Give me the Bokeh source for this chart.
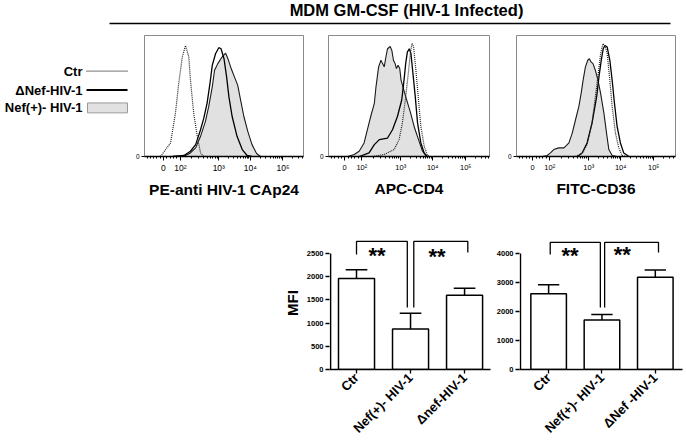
from math import pi, log10
from bokeh.plotting import figure
from bokeh.layouts import column, row
from bokeh.models import Range1d, FixedTicker, Spacer
from bokeh.core.properties import value
from bokeh.embed import file_html
from bokeh.resources import INLINE

FONT = "Liberation Sans"

# ---------------- data ----------------
title_text = "MDM GM-CSF (HIV-1 Infected)"
legend_labels = ["Ctr", "ΔNef-HIV-1", "Nef(+)- HIV-1"]
panel_labels = ["PE-anti HIV-1 CAp24", "APC-CD4", "FITC-CD36"]

# histogram x axis: display position of each decade (logicle-like scale)
hist_tick_pos = [0.0, 0.52, 1.70, 2.67, 3.67]
hist_tick_labels = ["0", "10²", "10³", "10⁴", "10⁵"]

# panel 1 : PE-anti HIV-1 CAp24
p1_ctr_x = [-0.09, 0.22, 0.37, 0.47, 0.58, 0.68, 0.78, 0.83, 0.93, 1.04, 1.14, 1.24]
p1_ctr_y = [0, 12.1, 38.7, 65.2, 88.8, 99.1, 88.8, 68.2, 38.7, 18.0, 3.2, 0]
p1_dnef_x = [0.27, 0.63, 0.83, 0.99, 1.14, 1.24, 1.34, 1.43, 1.50, 1.60, 1.70, 1.77, 1.86,
             1.94, 2.01, 2.11, 2.26, 2.42, 2.57, 2.72]
p1_dnef_y = [0, 0.9, 4.7, 10.6, 23.9, 34.2, 47.5, 65.2, 81.4, 91.7, 97.1, 96.2, 87.3,
             71.1, 53.4, 35.7, 18.0, 6.2, 0.9, 0]
p1_nefp_x = [0.32, 0.63, 0.83, 0.99, 1.14, 1.29, 1.39, 1.50, 1.57, 1.67, 1.80, 1.91, 1.98,
             2.08, 2.18, 2.28, 2.37, 2.47, 2.59, 2.72, 2.86, 2.98]
p1_nefp_y = [0, 0.3, 3.2, 7.7, 18.0, 31.3, 44.5, 62.2, 77.0, 82.9, 88.8, 92.3, 87.3,
             78.5, 71.1, 63.7, 50.4, 35.7, 22.4, 10.6, 2.7, 0]

# panel 2 : APC-CD4
p2_ctr_x = [0.84, 1.20, 1.50, 1.65, 1.75, 1.85, 1.94, 1.99, 2.04, 2.09, 2.16, 2.23, 2.31,
            2.41, 2.51, 2.61]
p2_ctr_y = [0, 1.8, 6.2, 15.1, 29.8, 53.4, 77.0, 91.8, 101.2, 97.7, 77.0, 53.4, 26.9,
            9.2, 0.9, 0]
p2_dnef_x = [0.44, 0.74, 0.90, 1.05, 1.30, 1.45, 1.60, 1.73, 1.80, 1.85, 1.90, 1.96, 2.01,
             2.06, 2.14, 2.21, 2.31, 2.41, 2.51]
p2_dnef_y = [0, 3.2, 10.6, 15.1, 16.5, 23.9, 35.7, 50.4, 68.2, 82.9, 93.2, 96.2, 91.8,
             77.0, 53.4, 29.8, 12.1, 3.2, 0]
p2_nefp_x = [0.09, 0.29, 0.44, 0.59, 0.69, 0.79, 0.90, 0.95, 1.03, 1.10, 1.15, 1.20, 1.25,
             1.30, 1.38, 1.43, 1.48, 1.53, 1.57, 1.62, 1.67, 1.71, 1.85, 2.00, 2.12, 2.24,
             2.36, 2.48]
p2_nefp_y = [0, 1.8, 4.7, 12.1, 23.9, 35.7, 47.5, 62.2, 80.0, 85.9, 82.9, 80.0, 88.8,
             96.2, 98.2, 94.7, 85.9, 82.9, 78.5, 81.4, 78.5, 68.2, 53.4, 38.7, 25.4, 15.1,
             4.7, 0]

# panel 3 : FITC-CD36
p3_ctr_x = [1.30, 1.50, 1.65, 1.80, 1.90, 1.99, 2.06, 2.13, 2.19, 2.26, 2.33, 2.41, 2.51,
            2.61, 2.71, 2.81]
p3_ctr_y = [0, 2.7, 10.6, 29.8, 53.4, 74.1, 91.8, 100.6, 99.1, 91.8, 71.1, 44.5, 20.9,
            7.7, 0.9, 0]
p3_dnef_x = [1.35, 1.50, 1.65, 1.80, 1.94, 2.01, 2.08, 2.14, 2.19, 2.26, 2.34, 2.41, 2.48,
             2.56, 2.66, 2.76, 2.92]
p3_dnef_y = [0, 3.2, 12.1, 29.8, 53.4, 71.1, 85.9, 96.2, 99.1, 97.7, 85.9, 68.2, 47.5,
             26.9, 12.1, 3.2, 0]
p3_nefp_x = [0.29, 0.44, 0.54, 0.64, 0.79, 0.95, 1.10, 1.20, 1.30, 1.40, 1.47, 1.53, 1.60,
             1.67, 1.72, 1.77, 1.83, 1.90, 1.98, 2.06, 2.16, 2.24, 2.31, 2.41, 2.56]
p3_nefp_y = [0, 0.9, 3.2, 6.2, 7.7, 7.7, 12.1, 20.9, 32.8, 44.5, 56.4, 68.2, 80.0,
             85.9, 87.3, 84.4, 82.9, 77.0, 68.2, 56.4, 38.7, 20.9, 6.2, 0.9, 0]

# bar chart 1 (CD4 MFI)
bar1_cats = ["Ctr", "Nef(+)- HIV-1", "Δnef-HIV-1"]
bar1_mean = [1960, 875, 1600]
bar1_sem = [190, 335, 150]
bar1_yticks = [0, 500, 1000, 1500, 2000, 2500]
bar1_br_x = [[0.0, 0.94], [1.06, 2.06]]
bar1_br_bottom = [[2480, 1335], [1335, 2520]]
bar1_br_top = [2760, 2760]
bar1_sig_x = [0.38, 1.49]
bar1_sig_y = [2457, 2440]
bar1_sig = ["**", "**"]

# bar chart 2 (CD36 MFI)
bar2_cats = ["Ctr", "Nef(+)- HIV-1", "ΔNef -HIV-1"]
bar2_mean = [2610, 1710, 3180]
bar2_sem = [310, 185, 255]
bar2_yticks = [0, 1000, 2000, 3000, 4000]
bar2_br_x = [[0.03, 0.97], [1.05, 2.06]]
bar2_br_bottom = [[3965, 2140], [2140, 4035]]
bar2_br_top = [4380, 4380]
bar2_sig_x = [0.40, 1.38]
bar2_sig_y = [3930, 3960]
bar2_sig = ["**", "**"]


# ---------------- helpers ----------------
def blank(width, height, xr, yr, top=0, bottom=0):
    p = figure(width=width, height=height, x_range=Range1d(*xr), y_range=Range1d(*yr),
               output_backend="svg", toolbar_location=None,
               x_axis_type=None, y_axis_type=None, min_border=0,
               min_border_top=top, min_border_bottom=bottom)
    p.outline_line_color = None
    return p


def hist_minor(xmin, xmax):
    P = hist_tick_pos
    m = []
    k = 1
    while -0.1 * k > xmin:
        m.append(-0.1 * k)
        k += 1
    for k in range(1, 5):
        m.append(P[1] * k / 5)
    for j in range(1, 4):
        for k in range(2, 10):
            m.append(P[j] + log10(k) * (P[j + 1] - P[j]))
    for k in range(2, 10):
        v = P[4] + log10(k) * (P[4] - P[3])
        if v < xmax:
            m.append(v)
    return m


def hist(width, mbl, mbr, xr, label, ctr, dnef, nefp, fs):
    p = figure(width=width, height=170, x_range=Range1d(*xr), y_range=Range1d(0, 108),
               output_backend="svg", toolbar_location=None,
               min_border_left=mbl, min_border_right=mbr, min_border_top=5, min_border_bottom=43)
    p.grid.visible = False
    p.outline_line_color = "#8a8a8a"
    p.outline_line_width = 1
    p.patch(nefp[0], nefp[1], fill_color="#e1e1e1", line_color=None)
    p.line(nefp[0], nefp[1], line_color="#1a1a1a", line_width=1.1)
    p.line(dnef[0], dnef[1], line_color="black", line_width=1.3)
    p.line(ctr[0], ctr[1], line_color="#222222", line_width=1.2, line_dash="1 1")

    xa = p.xaxis[0]
    xa.ticker = FixedTicker(ticks=hist_tick_pos, minor_ticks=hist_minor(*xr))
    xa.major_label_overrides = dict(zip(hist_tick_pos, hist_tick_labels))
    xa.axis_line_width = 1.5
    xa.axis_line_color = "black"
    xa.major_tick_out = 4
    xa.major_tick_in = 0
    xa.minor_tick_out = 2
    xa.minor_tick_in = 0
    xa.major_label_standoff = 2
    xa.major_label_text_font = FONT
    xa.major_label_text_font_size = fs
    xa.major_label_text_color = "black"
    xa.axis_label = label
    xa.axis_label_text_font = FONT
    xa.axis_label_text_font_style = "bold"
    xa.axis_label_text_font_size = "15.5px"
    xa.axis_label_text_color = "black"
    xa.axis_label_standoff = 5

    ya = p.yaxis[0]
    ya.ticker = FixedTicker(ticks=[0])
    ya.axis_line_color = None
    ya.major_tick_out = 3
    ya.major_tick_in = 0
    ya.major_label_standoff = 2
    ya.major_label_text_font = FONT
    ya.major_label_text_font_size = "6.5px"
    ya.major_label_text_color = "black"
    return p


def bars(width, mbl, mbr, xr, axis_x, cats, mean, sem, yticks, ytop,
         brx, brb, brt, sx, sy, stxt, ylabel):
    p = figure(width=width, height=244, x_range=Range1d(*xr), y_range=Range1d(0, ytop),
               output_backend="svg", toolbar_location=None,
               min_border_left=mbl, min_border_right=mbr, min_border_top=36, min_border_bottom=75)
    p.grid.visible = False
    p.outline_line_color = None
    xpos = list(range(len(cats)))
    tops = [m + s for m, s in zip(mean, sem)]
    p.segment(x0=xpos, y0=mean, x1=xpos, y1=tops, line_color="black", line_width=1.5)
    p.segment(x0=[x - 0.2 for x in xpos], y0=tops, x1=[x + 0.2 for x in xpos], y1=tops,
              line_color="black", line_width=1.5)
    p.vbar(x=xpos, top=mean, width=0.667, bottom=0, fill_color="white",
           line_color="black", line_width=1.5)
    p.multi_line(xs=[[a, a, b, b] for a, b in brx],
                 ys=[[bb[0], t, t, bb[1]] for bb, t in zip(brb, brt)],
                 line_color="black", line_width=1.3)
    p.text(x=sx, y=sy, text=stxt, text_font=value(FONT), text_font_style="bold",
           text_font_size="22px", text_align="center", text_baseline="middle", text_color="black")
    # y axis line, only up to the last tick
    p.segment(x0=[axis_x], y0=[yticks[0]], x1=[axis_x], y1=[yticks[-1]],
              line_color="black", line_width=1.5)

    xa = p.xaxis[0]
    xa.ticker = FixedTicker(ticks=xpos)
    xa.major_label_overrides = dict(zip(xpos, cats))
    xa.major_label_orientation = pi / 4
    xa.axis_line_width = 1.5
    xa.major_tick_out = 4
    xa.major_tick_in = 0
    xa.major_tick_line_width = 1.3
    xa.major_label_standoff = 2
    xa.major_label_text_font = FONT
    xa.major_label_text_font_style = "bold"
    xa.major_label_text_font_size = "13px"
    xa.major_label_text_color = "black"

    ya = p.yaxis[0]
    ya.ticker = FixedTicker(ticks=yticks)
    ya.axis_line_color = None
    ya.major_tick_out = 4
    ya.major_tick_in = 0
    ya.major_tick_line_width = 1.3
    ya.major_label_standoff = 2
    ya.major_label_text_font = FONT
    ya.major_label_text_font_style = "bold"
    ya.major_label_text_font_size = "7.5px"
    ya.major_label_text_color = "black"
    if ylabel:
        ya.axis_label = ylabel
        ya.axis_label_text_font = FONT
        ya.axis_label_text_font_style = "bold"
        ya.axis_label_text_font_size = "15px"
        ya.axis_label_text_color = "black"
        ya.axis_label_standoff = 3
    return p


# ---------------- header ----------------
hdr = blank(686, 30, (0, 686), (30, 0))
hdr.text(x=[406], y=[0], text=[title_text], text_font=value(FONT), text_font_style="bold",
         text_font_size="16.5px", text_align="center", text_baseline="top", text_color="black")
hdr.line(x=[109, 670], y=[23, 23], line_color="black", line_width=1.5)

# ---------------- legend (frame aligned with the histogram frames: y 35..157) ----------------
leg = blank(128, 170, (0, 128), (157, 35), top=5, bottom=43)
leg.text(x=[82, 82, 82], y=[71, 90, 108], text=legend_labels, text_font=value(FONT),
         text_font_style="bold", text_font_size="13px", text_align="right",
         text_baseline="middle", text_color="black")
leg.line(x=[86, 127], y=[71, 71], line_color="#222222", line_width=1.2, line_dash="1 1")
leg.line(x=[86, 127], y=[90, 90], line_color="black", line_width=2)
leg.quad(left=[87], right=[127], top=[103], bottom=[113], fill_color="#e1e1e1",
         line_color="#9a9a9a", line_width=1)

# ---------------- histograms ----------------
h1 = hist(185, 16, 10, (-0.58, 4.30), panel_labels[0],
          (p1_ctr_x, p1_ctr_y), (p1_dnef_x, p1_dnef_y), (p1_nefp_x, p1_nefp_y), "8.5px")
h2 = hist(186, 15, 10, (-0.489, 4.39), panel_labels[1],
          (p2_ctr_x, p2_ctr_y), (p2_dnef_x, p2_dnef_y), (p2_nefp_x, p2_nefp_y), "7.5px")
h3 = hist(187, 17, 11, (-0.489, 4.33), panel_labels[2],
          (p3_ctr_x, p3_ctr_y), (p3_dnef_x, p3_dnef_y), (p3_nefp_x, p3_nefp_y), "7.5px")

# ---------------- bar charts ----------------
b1 = bars(223, 59, 3, (-0.5, 2.48), -0.48, bar1_cats, bar1_mean, bar1_sem, bar1_yticks, 2866,
          bar1_br_x, bar1_br_bottom, bar1_br_top, bar1_sig_x, bar1_sig_y, bar1_sig, "MFI")
b2 = bars(193, 24, 4, (-0.546, 2.51), -0.528, bar2_cats, bar2_mean, bar2_sem, bar2_yticks, 4586,
          bar2_br_x, bar2_br_bottom, bar2_br_top, bar2_sig_x, bar2_sig_y, bar2_sig, None)

p = column(hdr,
           row(leg, h1, h2, h3),
           row(Spacer(width=270, height=244), b1, b2))

open("out.html", "w").write(file_html(p, INLINE))
